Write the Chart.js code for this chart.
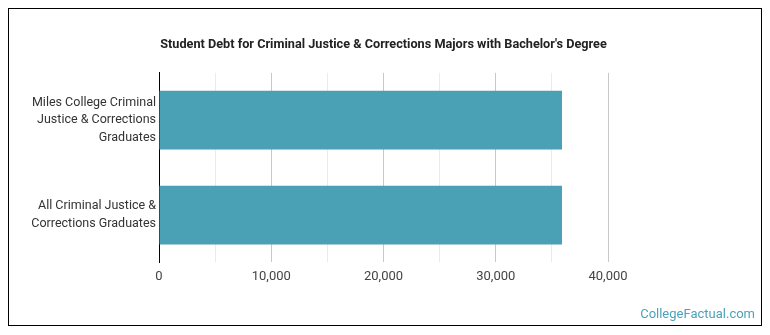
<!DOCTYPE html>
<html>
<head>
<meta charset="utf-8">
<script src="https://cdn.jsdelivr.net/npm/chart.js@4"></script>
<style>
  html, body { margin: 0; padding: 0; background: #fff; }
  canvas { display: block; }
</style>
</head>
<body>
<canvas id="debt-chart" width="770" height="335"></canvas>
<script>
const categories = [
  ["Miles College Criminal", "Justice & Corrections", "Graduates"],
  ["All Criminal Justice &", "Corrections Graduates"]
];
const debtValues = [35900, 35900];
const tickValues = [0, 10000, 20000, 30000, 40000];

// border frame + watermark, and center the title over the plot area
const frame = {
  id: "frame",
  afterLayout(chart) {
    const tb = chart.titleBlock;
    if (tb) {
      tb.left = chart.chartArea.left;
      tb.right = chart.chartArea.right;
      tb.width = tb.right - tb.left;
    }
  },
  afterDraw(chart) {
    const ctx = chart.ctx;
    ctx.save();
    ctx.strokeStyle = "#000";
    ctx.lineWidth = 1;
    ctx.strokeRect(8.5, 8.5, 753, 317);
    ctx.fillStyle = "#4aa3b8";
    ctx.font = "13px Roboto";
    ctx.textAlign = "right";
    ctx.textBaseline = "alphabetic";
    ctx.fillText("CollegeFactual.com", 755, 318);
    ctx.restore();
  }
};

const debtChart = new Chart(document.getElementById("debt-chart"), {
  "type": "bar",
  "data": {
    "labels": categories,
    "datasets": [{
      "data": debtValues,
      "backgroundColor": "#4aa0b4",
      "barPercentage": 0.62,
      "categoryPercentage": 1
    }]
  },
  "options": {
    "indexAxis": "y",
    "responsive": false,
    "animation": false,
    "layout": { "padding": { "left": 0, "right": 162, "top": 0, "bottom": 43 } },
    "plugins": {
      "legend": { "display": false },
      "tooltip": { "enabled": false },
      "title": {
        "display": true,
        "text": "Student Debt for Criminal Justice & Corrections Majors with Bachelor's Degree",
        "color": "#222",
        "font": { "family": "Roboto", "size": 12.7, "weight": "bold" },
        "padding": { "top": 36.8, "bottom": 20.8 }
      }
    },
    "scales": {
      "x": {
        "min": 0,
        "max": 40000,
        "border": { "display": false },
        "grid": {
          "drawTicks": false,
          "color": function(ctx) {
            const v = ctx.tick ? ctx.tick.value : 0;
            return v % 10000 === 0 ? "#c8c8c8" : "#ebebeb";
          }
        },
        "ticks": {
          "stepSize": 5000,
          "padding": 7,
          "color": "#444",
          "font": { "family": "Roboto", "size": 13 },
          "callback": function(value) {
            return tickValues.includes(value) ? value.toLocaleString("en-US") : "";
          }
        }
      },
      "y": {
        "border": { "color": "#000", "width": 1 },
        "grid": { "display": false, "drawTicks": false },
        "afterFit": function(scale) { scale.width = 159; },
        "ticks": {
          "padding": 3,
          "color": "#333",
          "font": { "family": "Roboto", "size": 12.5, "lineHeight": 1.4 }
        }
      }
    }
  },
  "plugins": [frame]
});
</script>
</body>
</html>
